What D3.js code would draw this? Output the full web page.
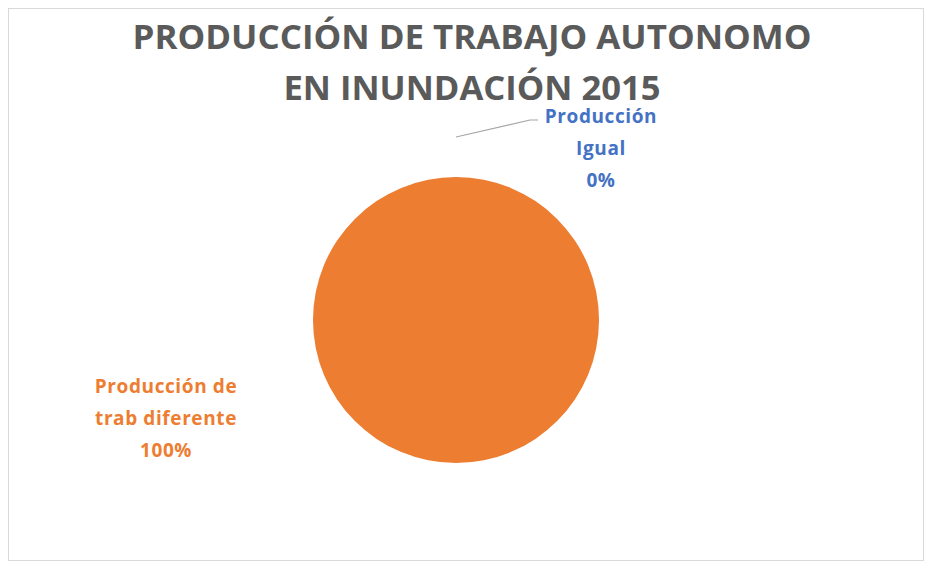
<!doctype html>
<html>

<head>
  <meta charset="utf-8">
  <title>Producción de trabajo autonomo</title>
  <style>
    body {
      margin: 0;
      background: #fff;
    }

    svg text {
      font-family: "Open Sans", "DejaVu Sans", sans-serif;
      font-weight: 700;
    }
  </style>
</head>

<body>
  <div id="chart"></div>
  <script src="https://cdn.jsdelivr.net/npm/d3@7"></script>
  <script>
    // datos
    const titleLines = ['PRODUCCIÓN DE TRABAJO AUTONOMO', 'EN INUNDACIÓN 2015'];
    const categories = ['Producción de trab diferente', 'Producción Igual'];
    const values = [100, 0];
    const labelLines = [['Producción de', 'trab diferente'], ['Producción', 'Igual']];
    const colors = ['#ED7D31', '#4472C4'];

    const width = 928;
    const height = 569;

    const svg = d3.select('#chart').append('svg')
      .attr('width', width)
      .attr('height', height);

    // marco del gráfico
    svg.append('rect')
      .attr('x', 8.5).attr('y', 8.5)
      .attr('width', 915).attr('height', 552)
      .attr('fill', '#fff')
      .attr('stroke', '#d9d9d9')
      .attr('stroke-width', 1);

    // título
    const title = svg.append('text')
      .attr('text-anchor', 'middle')
      .attr('fill', '#5a5a5a')
      .style('font-size', '34px');
    title.selectAll('tspan')
      .data(titleLines)
      .join('tspan')
      .attr('x', 472)
      .attr('y', (d, i) => 49 + i * 51)
      .attr('textLength', (d, i) => i === 0 ? 679 : 377)
      .attr('lengthAdjust', 'spacingAndGlyphs')
      .text(d => d);

    // pastel
    const cx = 456;
    const cy = 320;
    const radius = 143;

    const total = d3.sum(values);
    const pie = d3.pie().sort(null).value(d => d.value);
    const arc = d3.arc().innerRadius(0).outerRadius(radius);
    const color = d3.scaleOrdinal().domain(categories).range(colors);

    const slices = pie(categories.map((c, i) => ({ name: c, value: values[i], lines: labelLines[i] })));

    const g = svg.append('g').attr('transform', `translate(${cx},${cy})`);

    g.selectAll('path')
      .data(slices)
      .join('path')
      .attr('d', arc)
      .attr('fill', d => color(d.data.name));

    // etiquetas (posición manual como en Excel)
    const labelPos = [
      { x: 166 - cx, y: 393 - cy },
      { x: 601 - cx, y: 123 - cy }
    ];
    const pct = d => d3.format('.0%')(d.data.value / total);

    // línea guía para la porción de 0%
    const zero = slices[1];
    const outer = d3.arc().innerRadius(radius + 40).outerRadius(radius + 40);
    const p0 = outer.centroid(zero);
    g.append('polyline')
      .attr('points', [p0, [530 - cx, 120 - cy], [538 - cx, 120 - cy]].map(p => p.join(',')).join(' '))
      .attr('fill', 'none')
      .attr('stroke', '#a6a6a6')
      .attr('stroke-width', 1.2);

    slices.forEach((d, i) => {
      const t = g.append('text')
        .attr('text-anchor', 'middle')
        .attr('fill', color(d.data.name))
        .style('font-size', '19px')
        .style('letter-spacing', '0.6px');
      const lines = d.data.lines.concat([pct(d)]);
      t.selectAll('tspan')
        .data(lines)
        .join('tspan')
        .attr('x', labelPos[i].x)
        .attr('y', (l, j) => labelPos[i].y + j * 32)
        .text(l => l);
    });
  </script>
</body>

</html>
